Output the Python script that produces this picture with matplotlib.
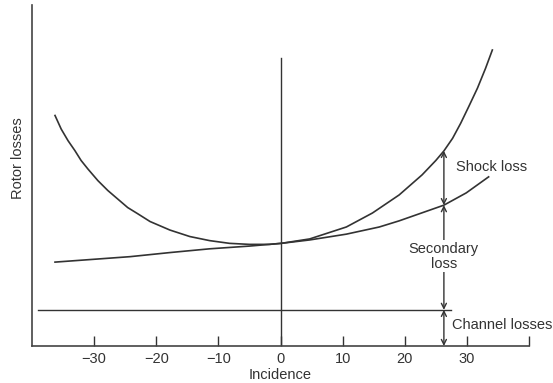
import matplotlib.pyplot as plt

plt.rcParams['font.family'] = ['Liberation Sans', 'DejaVu Sans']

# incidence (deg) and loss levels (arbitrary units)
inc_total = [-36.3, -35.3, -34.2, -33.1, -32.1, -31.0, -29.4, -27.8, -26.2,
             -24.6, -23.0, -21.0, -17.8, -14.6, -11.4, -8.2, -5.0, -1.8,
             0.1, 4.7, 10.6, 14.8, 19.1, 22.8, 25.0, 26.3, 27.7, 29.0,
             30.3, 31.7, 33.0, 34.1]
loss_total = [6.76, 6.36, 6.02, 5.73, 5.44, 5.19, 4.85, 4.56, 4.31,
              4.06, 3.88, 3.65, 3.40, 3.21, 3.09, 3.01, 2.98, 2.98,
              3.01, 3.14, 3.49, 3.90, 4.43, 5.02, 5.44, 5.72, 6.09, 6.53,
              7.02, 7.56, 8.14, 8.68]

inc_sec = [-36.3, -24.2, -17.8, -11.4, -5.0, 0.1, 4.7, 10.6, 15.9, 19.1,
           26.3, 29.9, 33.5]
loss_sec = [2.46, 2.62, 2.74, 2.85, 2.93, 3.01, 3.11, 3.28, 3.49, 3.67,
            4.13, 4.49, 4.96]

channel_loss = 1.06
x_arrow = 26.3
shock_top = 5.72
sec_top = 4.13

xticks = [-30, -20, -10, 0, 10, 20, 30, 40]
xticklabels = ['\u221230', '\u221220', '\u221210', '0', '10', '20', '30', '']

c = '#333333'
fig = plt.figure(figsize=(5.53, 3.83), dpi=100)
ax = fig.add_axes([0.0579, 0.0966, 0.8987, 0.8904])

ax.plot(inc_total, loss_total, color=c, lw=1.2)
ax.plot(inc_sec, loss_sec, color=c, lw=1.2)
ax.plot([-39, 27.4], [channel_loss, channel_loss], color=c, lw=1.0)
ax.plot([0, 0], [0, 8.45], color=c, lw=1.0)

arrow = dict(arrowstyle='<->', color=c, lw=1.0, shrinkA=0, shrinkB=0,
             mutation_scale=9)
ax.annotate('', xy=(x_arrow, shock_top), xytext=(x_arrow, sec_top),
            arrowprops=arrow)
ax.annotate('', xy=(x_arrow, sec_top), xytext=(x_arrow, channel_loss),
            arrowprops=arrow)
ax.annotate('', xy=(x_arrow, channel_loss), xytext=(x_arrow, 0),
            arrowprops=arrow)

ax.text(28.2, 5.25, 'Shock loss', fontsize=10.5, color=c, va='center', ha='left')
ax.text(x_arrow, 2.63, 'Secondary\nloss', fontsize=10.5, color=c, va='center',
        ha='center', linespacing=1.1,
        bbox=dict(facecolor='white', edgecolor='none', pad=1))
ax.text(27.6, 0.62, 'Channel losses', fontsize=10.5, color=c, va='center', ha='left')

ax.set_xlim(-40, 40)
ax.set_ylim(0, 10)
ax.set_xticks(xticks)
ax.set_xticklabels(xticklabels, fontsize=10.5, color=c)
ax.set_yticks([])
ax.tick_params(axis='x', direction='in', length=7, width=1.0, color=c, pad=4)
for s in ['top', 'right']:
    ax.spines[s].set_visible(False)
for s in ['left', 'bottom']:
    ax.spines[s].set_color('#444444')
    ax.spines[s].set_linewidth(1.2)

ax.set_xlabel('Incidence', fontsize=10.5, color=c, labelpad=2)
ax.set_ylabel('Rotor losses', fontsize=10.5, color=c)
ax.yaxis.set_label_coords(-0.014, 0.55)

fig.savefig('out.png', dpi=100)
